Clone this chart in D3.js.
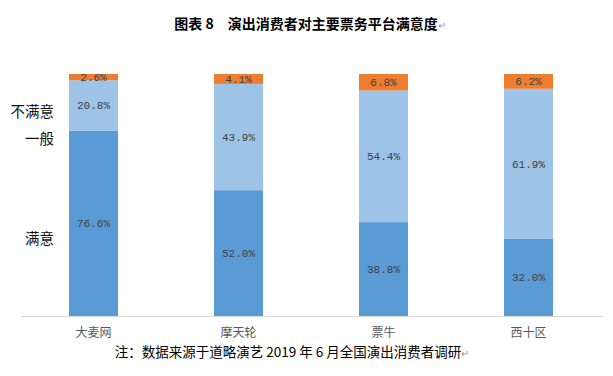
<!DOCTYPE html>
<html>
<head>
<meta charset="utf-8">
<script src="https://cdn.jsdelivr.net/npm/d3@7"></script>
<style>
  body { margin: 0; background: #fff; }
  text { font-family: "Noto Sans CJK SC", sans-serif; }
</style>
</head>
<body>
<svg id="chart" width="613" height="376"></svg>
<script>
let categories = ['大麦网', '摩天轮', '票牛', '西十区']
let satisfied = [76.6, 52.0, 38.8, 32.0]
let neutral = [20.8, 43.9, 54.4, 61.9]
let unsatisfied = [2.6, 4.1, 6.8, 6.2]
let seriesNames = ['满意', '一般', '不满意']
let colors = ['#5b9bd5', '#9dc3e6', '#ed7d31']

function main() {
    let svg = d3.select('#chart'),
        margin = {top: 74, bottom: 60, left: 21, right: 12}

    let rows = categories.map((c, i) => ({cat: c, '满意': satisfied[i], '一般': neutral[i], '不满意': unsatisfied[i]}))
    let stack = d3.stack().keys(seriesNames)(rows)

    let xScale = d3.scaleBand().range([margin.left, 601]).domain(categories).paddingInner(0.662).paddingOuter(0.331),
        yScale = d3.scaleLinear().range([316, margin.top]).domain([0, 100])

    let groups = svg.selectAll('g.series')
        .data(stack)
        .enter()
        .append('g')
        .attr('fill', (d, i) => colors[i])

    groups.selectAll('rect')
        .data(d => d)
        .enter()
        .append('rect')
        .attr('x', d => xScale(d.data.cat))
        .attr('y', d => yScale(Math.min(d[1], 100)))
        .attr('width', xScale.bandwidth())
        .attr('height', d => yScale(d[0]) - yScale(Math.min(d[1], 100)))

    groups.selectAll('text')
        .data(d => d)
        .enter()
        .append('text')
        .attr('text-anchor', 'middle')
        .attr('dominant-baseline', 'central')
        .style('font-family', '"Liberation Mono", monospace')
        .attr('font-size', 11)
        .attr('fill', '#404040')
        .attr('x', d => xScale(d.data.cat) + xScale.bandwidth() / 2)
        .attr('y', d => (yScale(d[0]) + yScale(Math.min(d[1], 100))) / 2 + 1)
        .text(d => (d[1] - d[0]).toFixed(1) + '%')

    let xAxis = svg.append('g')
        .attr('transform', 'translate(0, 316)')
        .call(d3.axisBottom(xScale).tickSize(0).tickPadding(12))
    xAxis.select('.domain').attr('stroke', '#d9d9d9').attr('d', 'M21.5,0.5H603')
    xAxis.selectAll('text').attr('font-size', 12).attr('fill', '#595959')
        .style('font-family', '"Noto Sans CJK SC", sans-serif')

    // left side series labels
    let legendY = {'不满意': 110, '一般': 137, '满意': 237}
    svg.selectAll('text.legend')
        .data(seriesNames)
        .enter()
        .append('text')
        .attr('class', 'legend')
        .attr('text-anchor', 'end')
        .attr('dominant-baseline', 'central')
        .attr('x', 54)
        .attr('y', d => legendY[d])
        .attr('font-size', 14.5)
        .attr('fill', '#111')
        .text(d => d)

    let title = svg.append('text')
        .attr('text-anchor', 'middle')
        .attr('x', 310)
        .attr('y', 29)
        .attr('font-size', 14)
        .attr('font-weight', 'bold')
        .attr('fill', '#000')
    title.append('tspan').text('图表 8\u3000演出消费者对主要票务平台满意度')
    title.append('tspan').attr('font-weight', 'normal').attr('fill', '#999').attr('font-size', 10).text('\u21b5')

    let note = svg.append('text')
        .attr('text-anchor', 'middle')
        .attr('x', 292)
        .attr('y', 357)
        .attr('font-size', 13.5)
        .attr('fill', '#000')
    note.append('tspan').text('注：数据来源于道略演艺 2019 年 6 月全国演出消费者调研')
    note.append('tspan').attr('fill', '#999').attr('font-size', 10).text('\u21b5')
}

main()
</script>
</body>
</html>
